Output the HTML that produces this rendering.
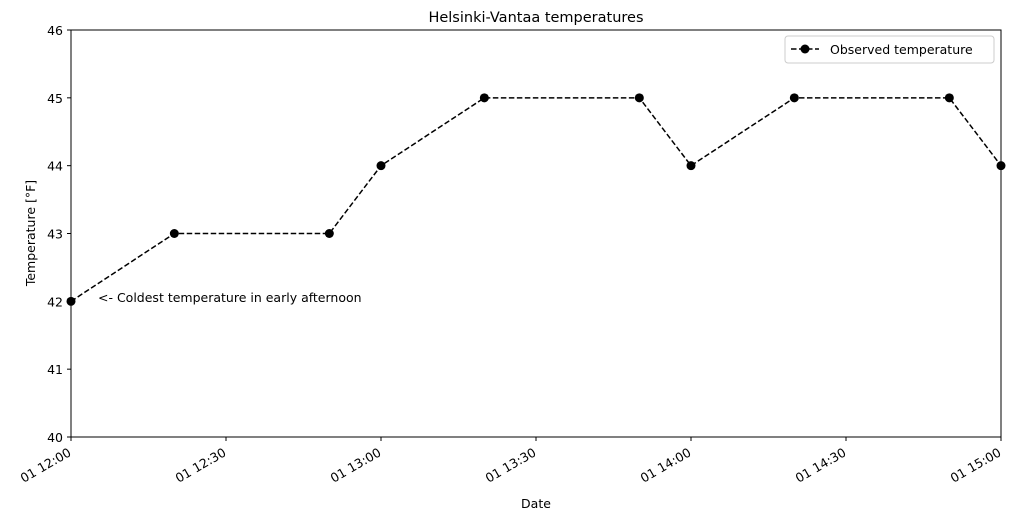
<!DOCTYPE html>
<html><head><meta charset="utf-8"><style>
body{margin:0;background:#fff;font-family:"DejaVu Sans","Liberation Sans",sans-serif}
svg text{font-family:"DejaVu Sans","Liberation Sans",sans-serif;font-size:12.5px;fill:#000}
</style></head><body>
<svg id="chart" width="1010" height="520" xmlns="http://www.w3.org/2000/svg">
<rect width="1010" height="520" fill="#fff"/>
<text x="536" y="22" text-anchor="middle" style="font-size:14.5px">Helsinki-Vantaa temperatures</text>
<g id="grid"></g>
<g id="marks"></g>
<rect x="71" y="30" width="930" height="407" fill="none" stroke="#000" stroke-width="1"/>
<text x="536" y="508" text-anchor="middle">Date</text>
<text transform="translate(35,233) rotate(-90)" text-anchor="middle">Temperature [°F]</text>
<text x="98" y="302">&lt;- Coldest temperature in early afternoon</text>
<g>
<rect x="785" y="36" width="209" height="27" fill="#fff" stroke="#ccc" rx="3"/>
<line x1="791" y1="49" x2="819" y2="49" stroke="#000" stroke-width="1.5" stroke-dasharray="5.5,2.5"/>
<circle cx="805" cy="49" r="4.5" fill="#000"/>
<text x="830" y="54">Observed temperature</text>
</g>
</svg>
<script>
const times = [0, 20, 50, 60, 80, 110, 120, 140, 170, 180]; // minutes after 12:00
const temps = [42, 43, 43, 44, 45, 45, 44, 45, 45, 44];
const yTicks = [40, 41, 42, 43, 44, 45, 46];
const xTicks = [0, 30, 60, 90, 120, 150, 180];
const xTickLabels = ["01 12:00", "01 12:30", "01 13:00", "01 13:30", "01 14:00", "01 14:30", "01 15:00"];
const NS = "http://www.w3.org/2000/svg";
const X0=71, X1=1001, Y0=437, Y1=30;
const xs = m => X0 + (m - 0) / 180 * (X1 - X0);
const ys = v => Y0 - (v - 40) / 6 * (Y0 - Y1);
const grid = document.getElementById('grid'), marks = document.getElementById('marks');
function mk(tag, attrs, parent){const e=document.createElementNS(NS,tag);for(const k in attrs)e.setAttribute(k,attrs[k]);parent.appendChild(e);return e;}
yTicks.forEach(v=>{
  const t=mk('line',{x1:X0-4,x2:X0,y1:ys(v),y2:ys(v),stroke:'#000'},grid);
  
  
  const l=mk('text',{x:X0-8,y:ys(v)+5,'text-anchor':'end'},grid);
  l.textContent=v;
  
  
});
xTicks.forEach((m,i)=>{
  const t=mk('line',{x1:xs(m),x2:xs(m),y1:Y0,y2:Y0+4,stroke:'#000'},grid);
  
  
  const l=mk('text',{transform:`translate(${xs(m)+1},${Y0+18}) rotate(-30)`,'text-anchor':'end'},grid);
  l.textContent=xTickLabels[i];
  
  
});
const pts=times.map((m,i)=>xs(m)+','+ys(temps[i])).join(' ');
const line=mk('polyline',{points:pts,fill:'none',stroke:'#000','stroke-width':1.5,'stroke-dasharray':'5.5,2.5'},marks);


times.forEach((m,i)=>{
  const c=mk('circle',{cx:xs(m),cy:ys(temps[i]),r:4.5,fill:'#000'},marks);
  
  
});
</script>
</body></html>
